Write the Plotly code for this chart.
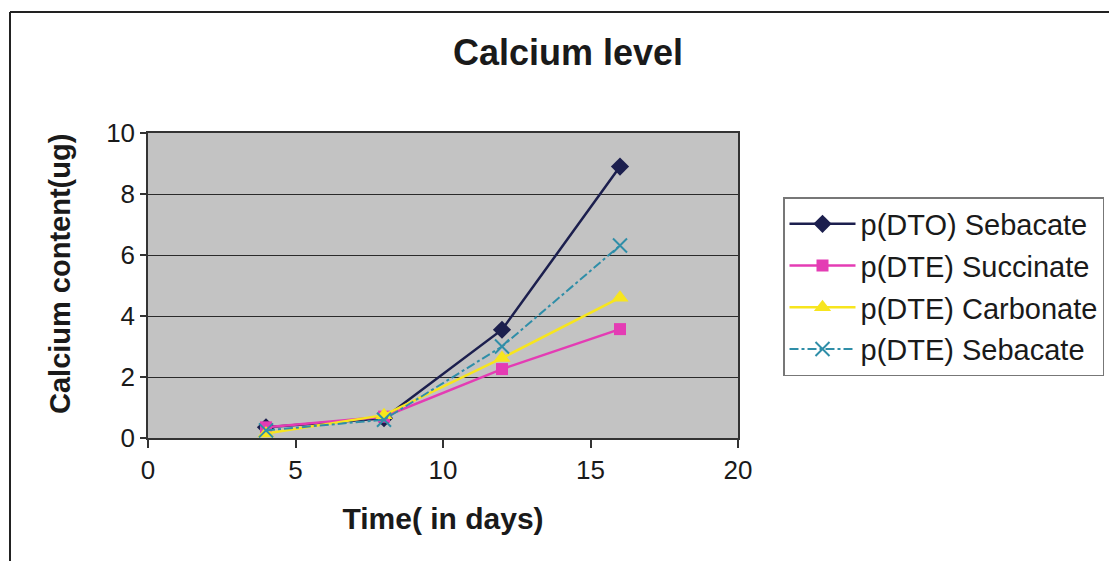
import plotly.graph_objects as go

days = [4, 8, 12, 16]
dto_sebacate = [0.35, 0.65, 3.55, 8.9]
dte_succinate = [0.35, 0.7, 2.26, 3.57]
dte_carbonate = [0.15, 0.75, 2.62, 4.6]
dte_sebacate = [0.25, 0.6, 3.0, 6.31]

series_names = ["p(DTO) Sebacate", "p(DTE) Succinate", "p(DTE) Carbonate", "p(DTE) Sebacate"]
x_ticks = [0, 5, 10, 15, 20]
y_ticks = [0, 2, 4, 6, 8, 10]

fig = go.Figure()
fig.add_trace(go.Scatter(x=days, y=dto_sebacate, name=series_names[0], mode="lines+markers",
                         legendgroup="a",
                         line=dict(color="#1c1f4e", width=2.5),
                         marker=dict(symbol="diamond", size=14, color="#1c1f4e")))
fig.add_trace(go.Scatter(x=days, y=dte_succinate, name=series_names[1], mode="lines+markers",
                         legendgroup="b",
                         line=dict(color="#e43cb4", width=2.5),
                         marker=dict(symbol="square", size=12, color="#e43cb4")))
fig.add_trace(go.Scatter(x=days, y=dte_carbonate, name=series_names[2], mode="lines+markers",
                         legendgroup="c",
                         line=dict(color="#f7e51e", width=2.5),
                         marker=dict(symbol="triangle-up", size=15, color="#f7e51e")))
fig.add_trace(go.Scatter(x=days, y=dte_sebacate, name=series_names[3], mode="lines+markers",
                         legendgroup="d",
                         line=dict(color="#2f8ea8", width=2, dash="dashdot"),
                         marker=dict(symbol="x-thin", size=14, color="#2f8ea8",
                                     line=dict(color="#2f8ea8", width=2))))

font_main = "Liberation Sans, Arial, sans-serif"

fig.update_layout(
    width=1109, height=561,
    margin=dict(l=148, r=371, t=133, b=123, autoexpand=False),
    paper_bgcolor="white",
    plot_bgcolor="#c3c3c3",
    title=dict(text="<b>Calcium level</b>", x=568 / 1109, xanchor="center",
               y=1 - 52 / 561, yanchor="middle",
               font=dict(family=font_main, size=36, color="#1a1a1a")),
    font=dict(family=font_main, color="#1a1a1a"),
    legend=dict(x=(783 - 148) / 590, y=(438 - 197) / 305, xanchor="left", yanchor="top",
                bordercolor="#777777", borderwidth=1.5, bgcolor="white",
                font=dict(family=font_main, size=29, color="#1a1a1a"),
                tracegroupgap=1, traceorder="grouped", itemwidth=66),
    showlegend=True,
)
fig.update_xaxes(range=[0, 20], tickvals=x_ticks, showgrid=False, zeroline=False,
                 ticks="outside", ticklen=8, tickcolor="#333", tickwidth=1.5,
                 showline=True, linecolor="#333", linewidth=1.5, mirror=True,
                 tickfont=dict(size=26, color="#1a1a1a"),
                 title=dict(text="<b>Time( in days)</b>", font=dict(size=30), standoff=24))
fig.update_yaxes(range=[0, 10], tickvals=y_ticks, showgrid=True, gridcolor="#2a2a2a", gridwidth=1.2,
                 zeroline=False, ticks="outside", ticklen=6, tickcolor="#333", tickwidth=1.5,
                 showline=True, linecolor="#333", linewidth=1.5, mirror=True,
                 tickfont=dict(size=26, color="#1a1a1a"))

# y-axis title placed to match the reference position
fig.add_annotation(text="<b>Calcium content(ug)</b>", xref="paper", yref="paper",
                   x=(60 - 148) / 590, y=(438 - 274) / 305, textangle=-90,
                   showarrow=False, xanchor="center", yanchor="middle",
                   font=dict(family=font_main, size=29, color="#1a1a1a"))

# outer chart frame
fig.add_shape(type="line", xref="paper", yref="paper",
              x0=(10 - 148) / 590, x1=(1109 - 148) / 590,
              y0=(438 - 12) / 305, y1=(438 - 12) / 305,
              line=dict(color="#222", width=2))
fig.add_shape(type="line", xref="paper", yref="paper",
              x0=(10 - 148) / 590, x1=(10 - 148) / 590,
              y0=(438 - 12) / 305, y1=(438 - 561) / 305,
              line=dict(color="#222", width=2))

fig.write_html("out.html")
